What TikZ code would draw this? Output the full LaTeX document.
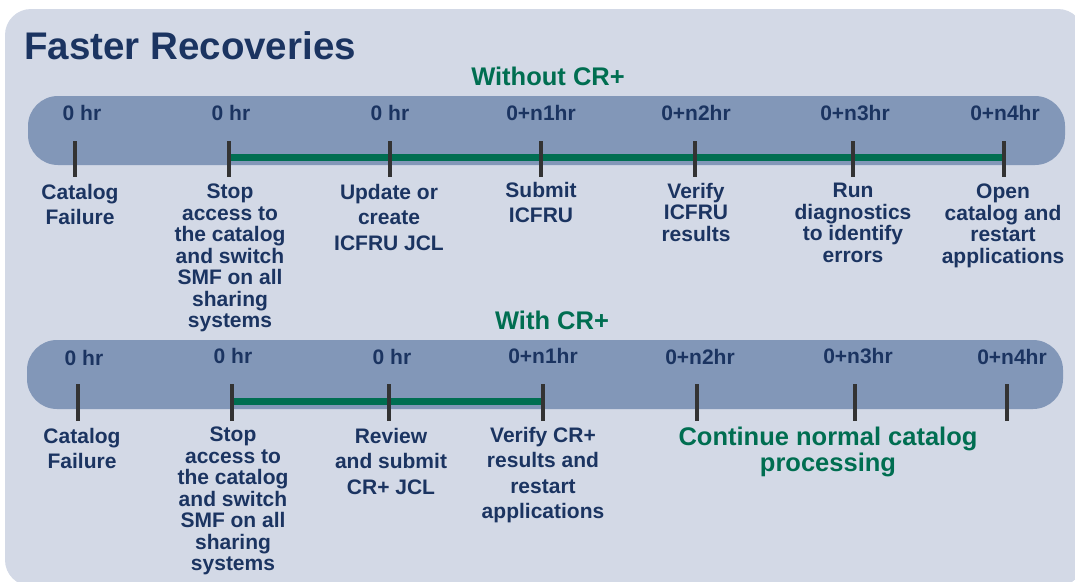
\documentclass[tikz,border=0pt]{standalone}
\usepackage{fontspec}
\setmainfont{Liberation Sans}
\usepackage{xcolor}
\definecolor{panelgrey}{HTML}{D3D9E6}
\definecolor{barblue}{HTML}{8297B8}
\definecolor{inknavy}{HTML}{1B3461}
\definecolor{crgreen}{HTML}{006E51}
\definecolor{tickink}{HTML}{333333}

\begin{document}
\begin{tikzpicture}[x=1pt,y=-1pt,
  point/.style={coordinate},
  hour/.style={font=\fontsize{21}{21}\selectfont\bfseries, text=inknavy, inner sep=0pt},
  task/.style={font=\fontsize{21}{21.5}\selectfont\bfseries, text=inknavy, align=center, anchor=north, inner sep=0pt},
  tasklong/.style={task, font=\fontsize{21}{25.5}\selectfont\bfseries},
  heading/.style={font=\fontsize{25.5}{26}\selectfont\bfseries, text=crgreen, align=center, inner sep=0pt},
  tickmark/.style={draw=tickink, line width=4pt},
  crline/.style={draw=crgreen, line width=7pt}]
\useasboundingbox (0,0) rectangle (1075,581);
\fill[panelgrey, rounded corners=26pt] (5,9) rectangle (1084,586);
\node[font=\fontsize{38.5}{40}\selectfont\bfseries, text=inknavy, inner sep=0pt, anchor=west] (title) at (24,46) {Faster Recoveries};

% without CR+
\node[heading] (h1) at (548,76) {Without CR+};
\fill[barblue, rounded corners=30pt] (28,96) rectangle (1065,165);
\foreach \n/\x in {1/75,2/229,3/390,4/541,5/695,6/853,7/1004}
  \node[point] (a\n) at (\x,157) {};
\draw[crline] (a2) -- (a7);
\foreach \n in {1,...,7}
  \draw[tickmark] ([yshift=16pt]a\n) -- ([yshift=-20pt]a\n);
\node[hour] (ha1) at (82,113)  {0 hr};
\node[hour] (ha2) at (231,113) {0 hr};
\node[hour] (ha3) at (390,113) {0 hr};
\node[hour] (ha4) at (541,113) {0+n1hr};
\node[hour] (ha5) at (696,113) {0+n2hr};
\node[hour] (ha6) at (855,113) {0+n3hr};
\node[hour] (ha7) at (1005,113) {0+n4hr};
\node[tasklong] (ta1) at (80,184)  {Catalog\\Failure};
\node[task]     (ta2) at (230,184) {Stop\\access to\\the catalog\\and switch\\SMF on all\\sharing\\systems};
\node[tasklong] (ta3) at (389,184) {Update or\\create\\ICFRU JCL};
\node[tasklong] (ta4) at (541,182) {Submit\\ICFRU};
\node[task]     (ta5) at (696,183) {Verify\\ICFRU\\results};
\node[task]     (ta6) at (853,183) {Run\\diagnostics\\to identify\\errors};
\node[task]     (ta7) at (1003,184) {Open\\catalog and\\restart\\applications};

% with CR+
\node[heading] (h2) at (552,320) {With CR+};
\fill[barblue, rounded corners=30pt] (27,340) rectangle (1063,409);
\foreach \n/\x in {1/78,2/232,3/389,4/543,5/697,6/855,7/1007}
  \node[point] (b\n) at (\x,401) {};
\draw[crline] (b2) -- (b4);
\foreach \n in {1,...,7}
  \draw[tickmark] ([yshift=17pt]b\n) -- ([yshift=-20pt]b\n);
\node[hour] (hb1) at (84,358)  {0 hr};
\node[hour] (hb2) at (233,356) {0 hr};
\node[hour] (hb3) at (392,357) {0 hr};
\node[hour] (hb4) at (543,356) {0+n1hr};
\node[hour] (hb5) at (700,357) {0+n2hr};
\node[hour] (hb6) at (858,356) {0+n3hr};
\node[hour] (hb7) at (1012,357) {0+n4hr};
\node[tasklong] (tb1) at (82,428)  {Catalog\\Failure};
\node[task]     (tb2) at (233,427) {Stop\\access to\\the catalog\\and switch\\SMF on all\\sharing\\systems};
\node[tasklong] (tb3) at (391,428) {Review\\and submit\\CR+ JCL};
\node[tasklong] (tb4) at (543,427) {Verify CR+\\results and\\restart\\applications};
\node[heading, anchor=north] (go) at (828,427) {Continue normal catalog\\processing};
\end{tikzpicture}
\end{document}
